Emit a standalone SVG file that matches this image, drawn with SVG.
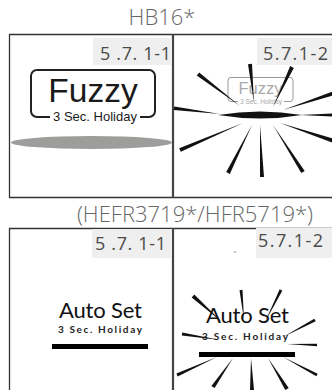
<svg xmlns="http://www.w3.org/2000/svg" width="332" height="390" viewBox="0 0 332 390">
<style>
.title{font-family:"Open Sans","Liberation Sans",sans-serif;font-weight:300;font-size:22px;fill:#666;text-anchor:middle}
.lbl{font-family:"Open Sans","Liberation Sans",sans-serif;font-weight:400;font-size:18px;fill:#4a4a4a}
.lblbg{fill:#efefef}
.frame{fill:none;stroke:#333;stroke-width:1.3}
.div{stroke:#444;stroke-width:2.2}
.ray{fill:#111}
.auto{font-family:Lato,"Liberation Sans",sans-serif;font-size:22px;fill:#111;text-anchor:middle}
.autosub{font-family:Lato,"Liberation Sans",sans-serif;font-size:10px;font-weight:bold;letter-spacing:1px;fill:#222;text-anchor:middle}
</style>
<rect width="332" height="390" fill="#fff"/>
<text class="title" x="162" y="25">HB16*</text>
<text class="title" x="195" y="222">(HEFR3719*/HFR5719*)</text>

<g id="frame-top">
<path class="frame" d="M333,34.5 H9.5 V197.5 H333"/>
<line class="div" x1="173" y1="34" x2="173" y2="198"/>
</g>
<g id="frame-bottom">
<path class="frame" d="M333,228.5 H9.5 V391"/>
<line class="div" x1="173" y1="228" x2="173" y2="391"/>
</g>

<g id="panel-hb16-1">
<rect class="lblbg" x="93" y="38" width="79" height="27"/>
<text class="lbl" x="100" y="60" textLength="71">5 .7. 1-1</text>
<rect x="31" y="70" width="124" height="47" rx="6" fill="none" stroke="#222" stroke-width="2"/>
<text x="93" y="102" font-family="Liberation Sans,Arial,sans-serif" font-size="33.5" fill="#1a1a1a" text-anchor="middle">Fuzzy</text>
<rect x="50" y="110" width="90" height="12" fill="#fff"/>
<text x="95" y="120.5" font-family="Liberation Sans,Arial,sans-serif" font-size="13" fill="#1a1a1a" text-anchor="middle">3 Sec. Holiday</text>
<ellipse cx="91.5" cy="142.5" rx="80.5" ry="6.5" fill="#9d9d9b"/>
</g>

<g id="panel-hb16-2">
<rect class="lblbg" x="257" y="38" width="76" height="27"/>
<text class="lbl" x="263" y="60" textLength="65">5.7.1-2</text>
<rect x="228" y="77.5" width="65" height="24" rx="3" fill="none" stroke="#999" stroke-width="1"/>
<text x="260.5" y="94" font-family="Liberation Sans,Arial,sans-serif" font-size="16.5" fill="#aaa" text-anchor="middle">Fuzzy</text>
<rect x="238" y="98" width="46" height="7" fill="#fff"/>
<text x="261" y="103.5" font-family="Liberation Sans,Arial,sans-serif" font-size="6.5" fill="#aaa" text-anchor="middle">3 Sec. Holiday</text>
<path d="M218,115 Q260,108 302,115 Q260,122 218,115 Z" fill="#111"/>
<polygon class="ray" points="196.8,75.6 199.2,72.4 240,106"/>
<polygon class="ray" points="248,64.2 252,63.8 254,103"/>
<polygon class="ray" points="290.2,66.1 293.8,67.9 273,107"/>
<polygon class="ray" points="333.4,91.1 334.6,94.9 283,110"/>
<polygon class="ray" points="173.7,110 174.3,106.5 220,114"/>
<polygon class="ray" points="334,113.5 334,116.5 300,115"/>
<polygon class="ray" points="180.8,151.8 179.2,148.2 243,123"/>
<polygon class="ray" points="229.8,173.9 226.2,172.1 252,125"/>
<polygon class="ray" points="264,177 260,177 260,125"/>
<polygon class="ray" points="304.7,170.9 301.3,173.1 273,125"/>
<polygon class="ray" points="334.6,139.1 333.4,142.9 280,123"/>
</g>

<g id="panel-hefr-1">
<rect class="lblbg" x="92" y="229" width="80" height="29"/>
<text class="lbl" x="95" y="250" textLength="71">5 .7. 1-1</text>
<text class="auto" x="100.5" y="318" textLength="83">Auto Set</text>
<text class="autosub" x="100.5" y="333" textLength="85">3 Sec. Holiday</text>
<rect x="52" y="344" width="96" height="5" fill="#000"/>
</g>

<g id="panel-hefr-2">
<rect class="lblbg" x="256" y="228" width="77" height="30"/>
<text class="lbl" x="258" y="247" textLength="65">5.7.1-2</text>
<text x="235" y="254" font-family="Liberation Sans,sans-serif" font-size="6" fill="#aaa" text-anchor="middle">=</text>
<text class="auto" x="247.5" y="323" textLength="83">Auto Set</text>
<text class="autosub" x="245.5" y="340" textLength="87">3 Sec. Holiday</text>
<rect x="199" y="352" width="96" height="5" fill="#000"/>
<polygon class="ray" points="191.7,297.5 194.3,294.5 222,322"/>
<polygon class="ray" points="239.5,290.15 242.5,289.85 244,320"/>
<polygon class="ray" points="279.7,289.3 282.3,290.7 265,322"/>
<polygon class="ray" points="314.3,318.7 315.7,321.3 283,337"/>
<polygon class="ray" points="181.8,335.5 182.2,332.5 220,340"/>
<polygon class="ray" points="317,346.2 317,343.8 287,344"/>
<polygon class="ray" points="177.6,376.4 176.4,373.6 217,357"/>
<polygon class="ray" points="214.6,388.1 211.4,385.9 233,358"/>
<polygon class="ray" points="254,390 250,390 251,358"/>
<polygon class="ray" points="288.7,387.95 285.3,390.05 268,358"/>
<polygon class="ray" points="317.7,373.7 316.3,376.3 283,357"/>
</g>
</svg>
